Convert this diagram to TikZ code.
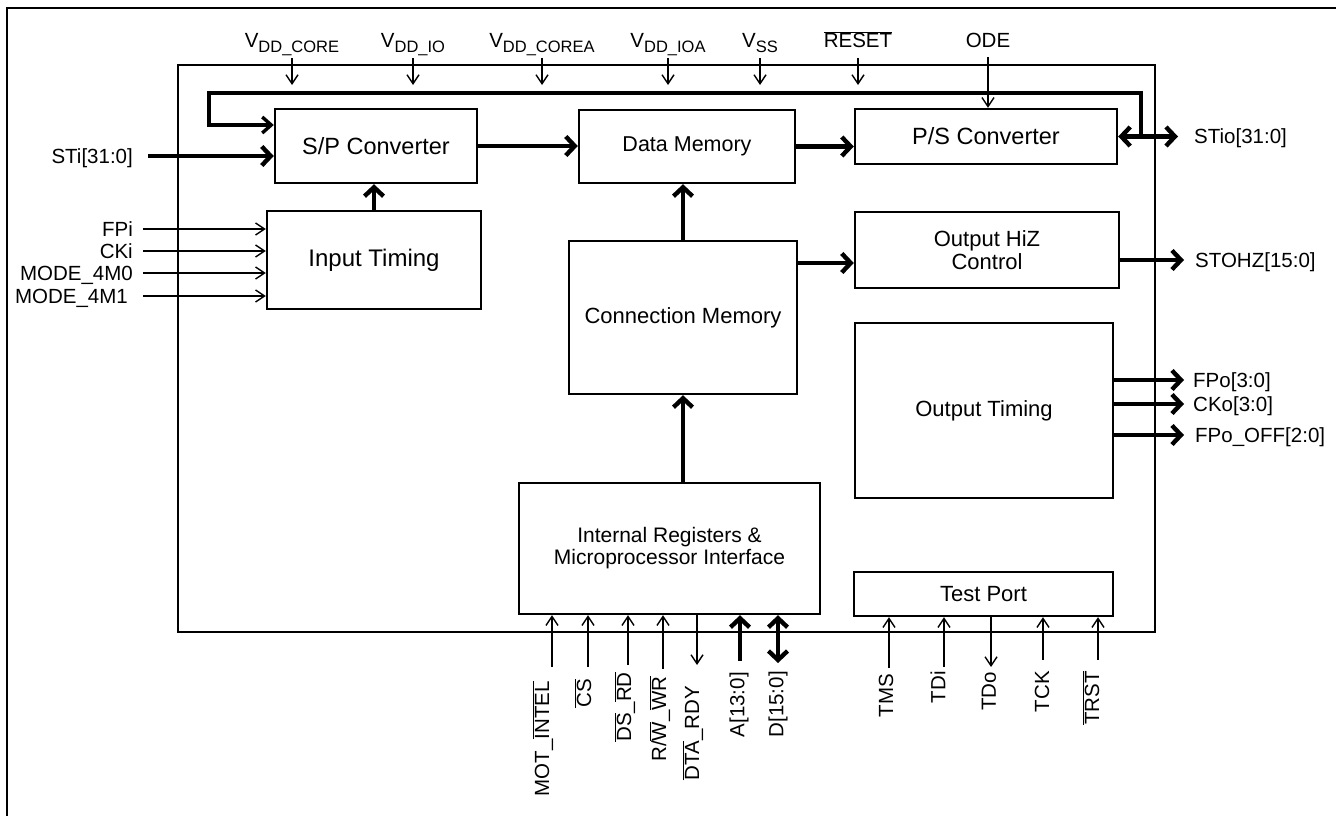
\documentclass[tikz,border=0pt]{standalone}
\usepackage{fontspec}
\setmainfont{Liberation Sans}
\usetikzlibrary{arrows.meta}
\newcommand{\ovl}[1]{$\overline{\mbox{#1}}$}
\newcommand{\fs}[1]{\fontsize{#1}{#1}\selectfont}
\newcommand{\Vsub}[1]{V\raisebox{-5pt}{\fs{16.5}#1}}
\begin{document}
\begin{tikzpicture}[x=1pt,y=-1pt,
  box/.style={draw,line width=2.4pt,inner sep=0pt,align=center},
  lab/.style={inner sep=0pt,font=\fs{20.5}},
  sig/.style={line width=1.8pt,-{Straight Barb[length=9pt,width=12pt,line width=1.4pt]}},
  fat/.style={line width=4.8pt,-{Straight Barb[length=9pt,width=19pt,line width=4.4pt]}},
  fatboth/.style={line width=4.8pt,{Straight Barb[length=9pt,width=19pt,line width=4.4pt]}-{Straight Barb[length=9pt,width=19pt,line width=4.4pt]}},
  bus/.style={line width=3.6pt,-{Straight Barb[length=9pt,width=16pt,line width=3.4pt]}}
]
\useasboundingbox (0,0) rectangle (1336,816);
\draw[line width=2.4pt] (7,816) -- (7,8) -- (1336,8);

% chip outline
\node[box,minimum width=977pt,minimum height=567pt] (chip) at (666.5,348.5) {};

% blocks
\node[box,minimum width=202pt,minimum height=74pt,font=\fs{23.5}] (SP) at (376,146) {S/P Converter};
\node[box,minimum width=216pt,minimum height=73pt,font=\fs{21.5}] (DM) at (687,146.5) {Data Memory};
\node[box,minimum width=262pt,minimum height=55pt,font=\fs{23.5}] (PS) at (986,136.5) {P/S Converter};
\node[box,minimum width=214pt,minimum height=98pt,font=\fs{24}] (IT) at (374,260) {Input Timing};
\node[box,minimum width=228pt,minimum height=153pt,font=\fs{22}] (CM) at (683,317.5) {Connection Memory};
\node[box,minimum width=264pt,minimum height=76pt,font=\fontsize{22}{23}\selectfont] (HZ) at (987,250) {Output HiZ\\Control};
\node[box,minimum width=258pt,minimum height=175pt,font=\fs{22}] (OT) at (984,410.5) {Output Timing};
\node[box,minimum width=301pt,minimum height=131pt,font=\fontsize{21}{22}\selectfont] (IR) at (669.5,548.5) {Internal Registers \&\\Microprocessor Interface};
\node[box,minimum width=259pt,minimum height=44pt,font=\fs{22}] (TP) at (983.5,594) {Test Port};

% top supply / control labels
\node[lab,anchor=base] (lvc) at (292,48) {\Vsub{DD\_CORE}};
\node[lab,anchor=base] (lvi) at (413,48) {\Vsub{DD\_IO}};
\node[lab,anchor=base] (lvca) at (542,48) {\Vsub{DD\_COREA}};
\node[lab,anchor=base] (lvia) at (668,48) {\Vsub{DD\_IOA}};
\node[lab,anchor=base] (lvss) at (760,48) {\Vsub{SS}};
\node[lab,anchor=base] (lrst) at (858,48) {\ovl{RESET}};
\node[lab,anchor=base] (lode) at (988,48) {ODE};
\coordinate (pvc) at (292,58);
\coordinate (pvi) at (413,58);
\coordinate (pvca) at (542,58);
\coordinate (pvia) at (668,58);
\coordinate (pvss) at (760,58);
\coordinate (prst) at (858,58);
\coordinate (pode) at (988,57);
\foreach \p in {pvc,pvi,pvca,pvia,pvss,prst} \draw[sig] (\p) -- ++(0,27);
\draw[sig] (pode) -- (pode |- PS.north);

% serial bus loop
\coordinate (busR) at (1141,93);
\coordinate (busL) at (209,93);
\coordinate (busE) at (209,125);
\draw[bus] (busR |- PS.east) -- (busR) -- (busL) -- (busE) -- (busE -| SP.west);

% STi / STio
\coordinate (stiL) at (148,156);
\node[lab,anchor=base east] (lsti) at (133,163) {STi[31:0]};
\draw[fat] (stiL) -- (stiL -| SP.west);
\coordinate (stioR) at (1178,136.5);
\draw[fatboth] (PS.east) -- (stioR);
\node[lab,anchor=base west] (lstio) at (1194,143) {STio[31:0]};

% internal data paths
\draw[fat] (SP.east) -- (SP.east -| DM.west);
\draw[fat] (DM.east) -- (DM.east -| PS.west);
\draw[fat] (IT.north) -- (IT.north |- SP.south);
\draw[fat] (CM.north) -- (CM.north |- DM.south);
\draw[fat] (CM.south |- IR.north) -- (CM.south);
\coordinate (cmhz) at (797,263);
\draw[fat] (cmhz -| CM.east) -- (cmhz -| HZ.west);

% right outputs
\coordinate (ostohz) at (1184,260);
\coordinate (ofpo) at (1184,380);
\coordinate (ocko) at (1184,404);
\coordinate (ofpoff) at (1184,435);
\draw[fat] (ostohz -| HZ.east) -- (ostohz);
\draw[fat] (ofpo -| OT.east) -- (ofpo);
\draw[fat] (ocko -| OT.east) -- (ocko);
\draw[fat] (ofpoff -| OT.east) -- (ofpoff);
\node[lab,anchor=base west] (lstohz) at (1195,267) {STOHZ[15:0]};
\node[lab,anchor=base west] (lfpo) at (1193,387) {FPo[3:0]};
\node[lab,anchor=base west] (lcko) at (1193,411) {CKo[3:0]};
\node[lab,anchor=base west] (lfpoff) at (1195,442) {FPo\_OFF[2:0]};

% left timing inputs
\coordinate (ifpi) at (143,229);
\coordinate (icki) at (143,251);
\coordinate (im0) at (143,273);
\coordinate (im1) at (143,296);
\foreach \p in {ifpi,icki,im0,im1} \draw[sig] (\p) -- (\p -| IT.west);
\node[lab,anchor=base east] (lfpi) at (133,236) {FPi};
\node[lab,anchor=base east] (lcki) at (133,258) {CKi};
\node[lab,anchor=base east] (lm0) at (133,280) {MODE\_4M0};
\node[lab,anchor=base east] (lm1) at (128,303) {MODE\_4M1};

% microprocessor pins
\coordinate (bmot) at (552,667);
\coordinate (bcs) at (588,667);
\coordinate (bds) at (628,665);
\coordinate (brw) at (663,669);
\coordinate (bdta) at (697,665);
\coordinate (ba) at (740,661);
\coordinate (bd) at (778,663);
\foreach \p in {bmot,bcs,bds,brw} \draw[sig] (\p) -- (\p |- IR.south);
\draw[sig] (bdta |- IR.south) -- (bdta);
\draw[fat] (ba) -- (ba |- IR.south);
\draw[fatboth] (bd |- IR.south) -- (bd);
\node[lab,rotate=90,anchor=east] (lmot) at (543,681) {MOT\_\ovl{INTEL}};
\node[lab,rotate=90,anchor=east] (lcs) at (583,679) {\ovl{CS}};
\node[lab,rotate=90,anchor=east] (lds) at (625,672) {\ovl{DS}\_\ovl{RD}};
\node[lab,rotate=90,anchor=east] (lrw) at (660,676) {R/\ovl{W}\_\ovl{WR}};
\node[lab,rotate=90,anchor=east] (ldta) at (693,686) {\ovl{DTA}\_RDY};
\node[lab,rotate=90,anchor=east] (la) at (739,672) {A[13:0]};
\node[lab,rotate=90,anchor=east] (ld) at (778,671) {D[15:0]};

% test port pins
\coordinate (tms) at (889,668);
\coordinate (tdi) at (944,667);
\coordinate (tdo) at (991,667);
\coordinate (tck) at (1043,660);
\coordinate (trst) at (1098,660);
\foreach \p in {tms,tdi,tck,trst} \draw[sig] (\p) -- (\p |- TP.south);
\draw[sig] (tdo |- TP.south) -- (tdo);
\node[lab,rotate=90,anchor=east] (ltms) at (886,674) {TMS};
\node[lab,rotate=90,anchor=east] (ltdi) at (938,671) {TDi};
\node[lab,rotate=90,anchor=east] (ltdo) at (989,672) {TDo};
\node[lab,rotate=90,anchor=east] (ltck) at (1042,671) {TCK};
\node[lab,rotate=90,anchor=east] (ltrst) at (1091,671) {\ovl{TRST}};
\end{tikzpicture}
\end{document}
